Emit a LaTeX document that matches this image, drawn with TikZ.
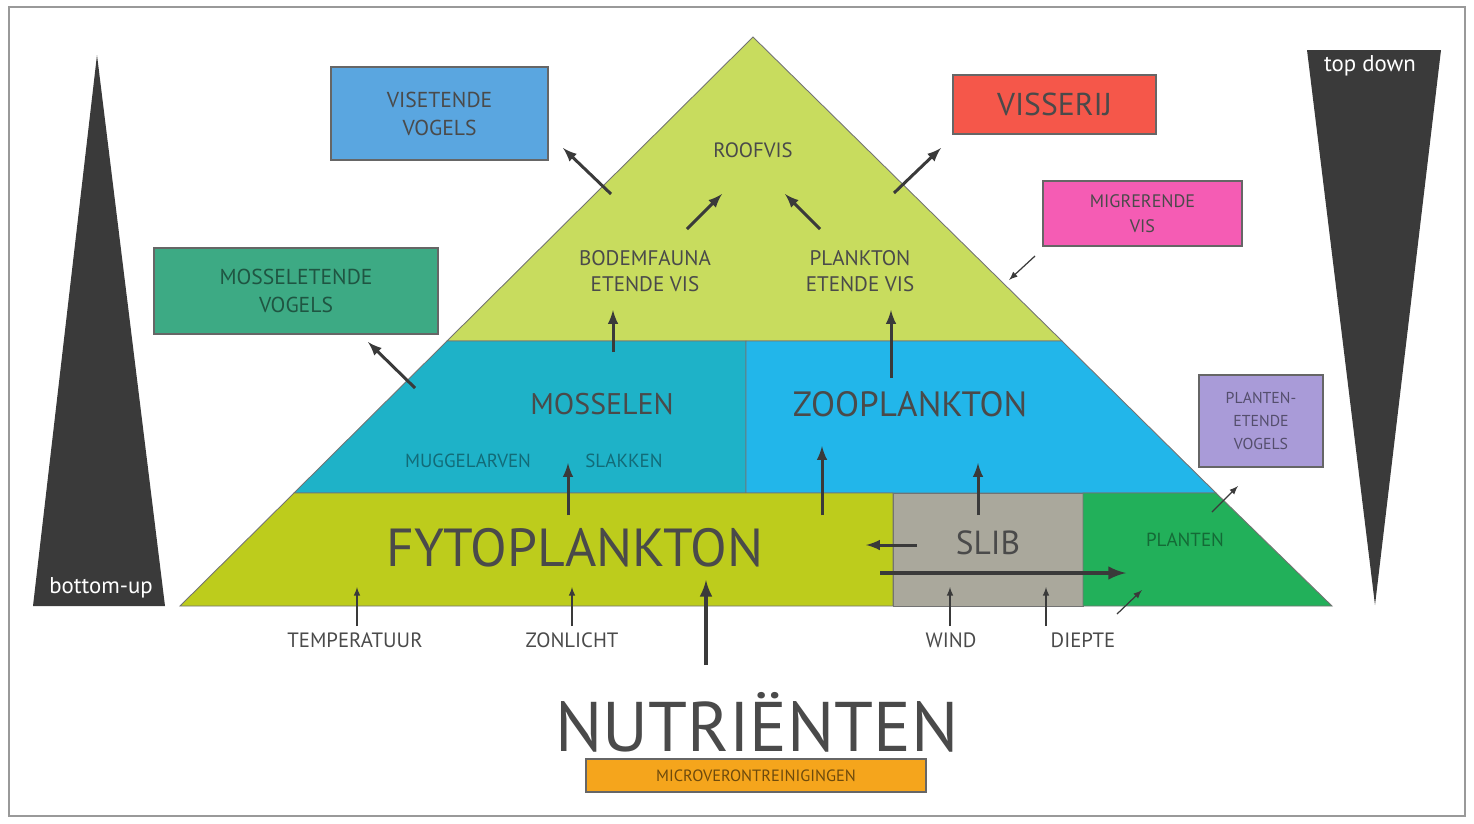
\documentclass[tikz,border=0pt]{standalone}
\usepackage{fontspec}
\setmainfont{PT Sans}
\usepackage{tikz}
\usetikzlibrary{arrows,calc}

\definecolor{topgreen}{HTML}{C8DC5E}
\definecolor{fytogreen}{HTML}{BDCC1C}
\definecolor{mosselteal}{HTML}{1EB2C8}
\definecolor{zooblue}{HTML}{22B6EA}
\definecolor{slibgray}{HTML}{AAA89C}
\definecolor{plantgreen}{HTML}{22B05A}
\definecolor{darkgray}{HTML}{3A3A3A}
\definecolor{textgray}{HTML}{4A4A4A}
\definecolor{birdblue}{HTML}{5AA6E0}
\definecolor{fishred}{HTML}{F5574A}
\definecolor{migpink}{HTML}{F55CB4}
\definecolor{mosselbird}{HTML}{3DAA84}
\definecolor{plantbird}{HTML}{A99BD8}
\definecolor{microorange}{HTML}{F5A51C}

\begin{document}
\begin{tikzpicture}[
  x=0.02cm,
  y=-0.02cm
]

  \path[use as bounding box] (0,0) rectangle (1474,823);

  \tikzstyle{layer}=[draw=black!55,line width=0.5pt]
  \tikzstyle{boxnode}=[draw=black!60,line width=0.8pt,inner sep=0pt,text=textgray,align=center]
  \tikzstyle{lab}=[text=textgray,align=center,font=\fontsize{11.8}{14}\selectfont]
  \tikzstyle{biglab}=[text=textgray,align=center]
  \tikzstyle{faintlab}=[align=center,font=\fontsize{10.8}{13}\selectfont]
  \tikzstyle{pointer}=[draw=darkgray,-latex,line width=1.7pt]
  \tikzstyle{thinptr}=[draw=darkgray,-latex,line width=0.7pt]

  % frame
  \draw[black!40,line width=0.8pt] (9,7) rectangle (1465,816);

  % bottom-up / top down
  \fill[darkgray] (97,55) -- (165,606) -- (33,606) -- cycle;
  \fill[darkgray] (1307,50) -- (1441,50) -- (1375,605) -- cycle;
  \node[text=white,font=\fontsize{13}{15}\selectfont] (bu) at (101,588) {bottom-up};
  \node[text=white,font=\fontsize{13}{15}\selectfont] (td) at (1370,66) {top down};

  % pyramid layers
  \filldraw[layer,fill=topgreen] (753,37) -- (1062,341) -- (447,341) -- cycle;
  \filldraw[layer,fill=mosselteal] (447,341) -- (746,341) -- (746,493) -- (294,493) -- cycle;
  \filldraw[layer,fill=zooblue] (746,341) -- (1062,341) -- (1216,493) -- (746,493) -- cycle;
  \filldraw[layer,fill=fytogreen] (294,493) -- (893,493) -- (893,606) -- (180,606) -- cycle;
  \filldraw[layer,fill=slibgray] (893,493) -- (1083,493) -- (1083,606) -- (893,606) -- cycle;
  \filldraw[layer,fill=plantgreen] (1083,493) -- (1216,493) -- (1332,606) -- (1083,606) -- cycle;

  % nodes
  \node[lab] (roofvis) at (753,150) {ROOFVIS};
  \node[lab,font=\fontsize{12}{15}\selectfont] (bodem) at (645,271) {BODEMFAUNA\\ETENDE VIS};
  \node[lab,font=\fontsize{12}{15}\selectfont] (plankvis) at (860,271) {PLANKTON\\ETENDE VIS};
  \node[biglab,font=\fontsize{17}{20}\selectfont] (mosselen) at (602,404) {MOSSELEN};
  \node[biglab,font=\fontsize{20}{22}\selectfont] (zoo) at (910,404) {ZOOPLANKTON};
  \node[faintlab,text=mosselteal!60!black] (muggel) at (468,461) {MUGGELARVEN};
  \node[faintlab,text=mosselteal!60!black] (slakken) at (624,461) {SLAKKEN};
  \node[biglab,font=\fontsize{30.5}{34}\selectfont] (fyto) at (575,548) {FYTOPLANKTON};
  \node[biglab,font=\fontsize{19}{22}\selectfont] (slib) at (988,543) {SLIB};
  \node[faintlab,text=plantgreen!60!black] (planten) at (1185,540) {PLANTEN};

  \node[boxnode,fill=birdblue,font=\fontsize{12.3}{16}\selectfont,
        minimum width=4.34cm,minimum height=1.86cm] (visvogels) at (439.5,113.5) {VISETENDE\\VOGELS};
  \node[boxnode,fill=fishred,font=\fontsize{18}{20}\selectfont,
        minimum width=4.06cm,minimum height=1.18cm] (visserij) at (1054.5,104.5) {VISSERIJ};
  \node[boxnode,fill=migpink,font=\fontsize{10.3}{14}\selectfont,
        minimum width=3.98cm,minimum height=1.3cm] (migvis) at (1142.5,213.5) {MIGRERENDE\\VIS};
  \node[boxnode,fill=mosselbird,text=mosselbird!50!black,font=\fontsize{12.3}{16}\selectfont,
        minimum width=5.68cm,minimum height=1.72cm] (mosvogels) at (296,291) {MOSSELETENDE\\VOGELS};
  \node[boxnode,fill=plantbird,text=plantbird!50!black,font=\fontsize{9}{13}\selectfont,
        minimum width=2.48cm,minimum height=1.84cm] (plantvogels) at (1261,421) {PLANTEN-\\ETENDE\\VOGELS};

  \node[lab] (temp) at (355,640) {TEMPERATUUR};
  \node[lab] (zon) at (572,640) {ZONLICHT};
  \node[lab] (wind) at (951,640) {WIND};
  \node[lab] (diepte) at (1083,640) {DIEPTE};
  \node[biglab,font=\fontsize{40}{44}\selectfont] (nutri) at (757,722) {NUTRIËNTEN};
  \node[boxnode,fill=microorange,text=microorange!45!black,font=\fontsize{9.3}{11}\selectfont,
        minimum width=6.8cm,minimum height=0.66cm] (micro) at (756,775.5) {MICROVERONTREINIGINGEN};

  % pointer ends
  \coordinate (a1s) at (611,194);  \coordinate (a1e) at (563,148);
  \coordinate (a2s) at (894,193);  \coordinate (a2e) at (941,148);
  \coordinate (a3s) at (687,229);  \coordinate (a3e) at (722,194);
  \coordinate (a4s) at (820,229);  \coordinate (a4e) at (785,194);
  \coordinate (a5s) at (613,352);  \coordinate (a5e) at (613,310);
  \coordinate (a6s) at (891,378);  \coordinate (a6e) at (891,310);
  \coordinate (a7s) at (415,388);  \coordinate (a7e) at (368,342);
  \coordinate (a8s) at (1035,256); \coordinate (a8e) at (1009,280);
  \coordinate (a9s) at (568,515);  \coordinate (a9e) at (568,463);
  \coordinate (b1s) at (822,515);  \coordinate (b1e) at (822,446);
  \coordinate (b2s) at (978,515);  \coordinate (b2e) at (978,463);
  \coordinate (b3s) at (917,545);  \coordinate (b3e) at (866,545);
  \coordinate (b4s) at (880,573);  \coordinate (b4e) at (1126,573);
  \coordinate (b5s) at (1212,512); \coordinate (b5e) at (1238,486);
  \coordinate (b6s) at (1117,614); \coordinate (b6e) at (1142,590);
  \coordinate (c1s) at (357,626);  \coordinate (c1e) at (357,587);
  \coordinate (c2s) at (572,626);  \coordinate (c2e) at (572,587);
  \coordinate (c3s) at (706,665);  \coordinate (c3e) at (706,580);
  \coordinate (c4s) at (950,626);  \coordinate (c4e) at (950,587);
  \coordinate (c5s) at (1046,626); \coordinate (c5e) at (1046,587);

  % pointers
  \draw[pointer] (a1s) -- (a1e);
  \draw[pointer] (a2s) -- (a2e);
  \draw[pointer] (a3s) -- (a3e);
  \draw[pointer] (a4s) -- (a4e);
  \draw[pointer] (a5s) -- (a5e);
  \draw[pointer] (a6s) -- (a6e);
  \draw[pointer] (a7s) -- (a7e);
  \draw[thinptr] (a8s) -- (a8e);
  \draw[pointer] (a9s) -- (a9e);
  \draw[pointer] (b1s) -- (b1e);
  \draw[pointer] (b2s) -- (b2e);
  \draw[pointer] (b3s) -- (b3e);
  \draw[pointer,line width=2.4pt] (b4s) -- (b4e);
  \draw[thinptr] (b5s) -- (b5e);
  \draw[thinptr] (b6s) -- (b6e);
  \draw[thinptr] (c1s) -- (c1e);
  \draw[thinptr] (c2s) -- (c2e);
  \draw[pointer,line width=2.2pt] (c3s) -- (c3e);
  \draw[thinptr] (c4s) -- (c4e);
  \draw[thinptr] (c5s) -- (c5e);

\end{tikzpicture}
\end{document}
